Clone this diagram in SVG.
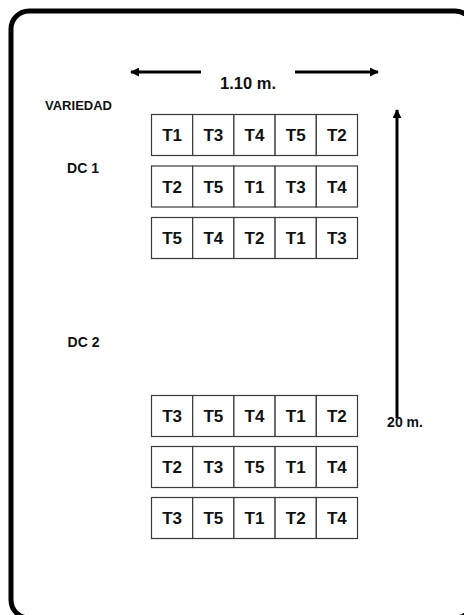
<svg xmlns="http://www.w3.org/2000/svg" width="464" height="615" viewBox="0 0 464 615">
<defs>
<marker id="ah" viewBox="0 0 10 10" refX="9" refY="5" markerWidth="3" markerHeight="3" orient="auto-start-reverse" markerUnits="strokeWidth">
<path d="M0,0 L10,5 L0,10 z" fill="#000"/>
</marker>
<style>
.frame{fill:#fff;stroke:#000;stroke-width:5}
.cell{fill:#fff;stroke:#3a3a3a;stroke-width:1.2}
.ct{font-family:"Liberation Sans",Arial,sans-serif;font-weight:bold;font-size:17px;fill:#111;text-anchor:middle}
.lbl{font-family:"Liberation Sans",Arial,sans-serif;font-weight:bold;fill:#111}
.arr{stroke:#000;stroke-width:3;fill:none}
</style>
</defs>
<rect width="464" height="615" fill="#fff"/>
<rect class="frame" x="11" y="11" width="462" height="607" rx="18"/>
<g id="connectors">
<line class="arr" x1="201" y1="72" x2="131" y2="72" marker-end="url(#ah)"/>
<line class="arr" x1="295" y1="72" x2="378" y2="72" marker-end="url(#ah)"/>
<line class="arr" x1="397" y1="418" x2="397" y2="110" marker-end="url(#ah)" stroke-width="3.5"/>
</g>
<g id="labels">
<text class="lbl" x="248" y="89" font-size="16.5" text-anchor="middle">1.10 m.</text>
<text class="lbl" x="405" y="427" font-size="14" text-anchor="middle">20 m.</text>
<text class="lbl" x="45" y="110" font-size="12" textLength="67" lengthAdjust="spacingAndGlyphs">VARIEDAD</text>
<text class="lbl" x="83" y="173" font-size="14" text-anchor="middle">DC 1</text>
<text class="lbl" x="83.5" y="347" font-size="14" text-anchor="middle">DC 2</text>
</g>
<g id="dc1-row1">
<rect class="cell" x="151.5" y="114.5" width="41.2" height="41"/><rect class="cell" x="192.7" y="114.5" width="41.2" height="41"/><rect class="cell" x="233.9" y="114.5" width="41.2" height="41"/><rect class="cell" x="275.1" y="114.5" width="41.2" height="41"/><rect class="cell" x="316.3" y="114.5" width="41.2" height="41"/>
<text class="ct" x="172.1" y="141">T1</text><text class="ct" x="213.3" y="141">T3</text><text class="ct" x="254.5" y="141">T4</text><text class="ct" x="295.7" y="141">T5</text><text class="ct" x="336.9" y="141">T2</text>
</g>
<g id="dc1-row2">
<rect class="cell" x="151.5" y="166" width="41.2" height="41"/><rect class="cell" x="192.7" y="166" width="41.2" height="41"/><rect class="cell" x="233.9" y="166" width="41.2" height="41"/><rect class="cell" x="275.1" y="166" width="41.2" height="41"/><rect class="cell" x="316.3" y="166" width="41.2" height="41"/>
<text class="ct" x="172.1" y="192.5">T2</text><text class="ct" x="213.3" y="192.5">T5</text><text class="ct" x="254.5" y="192.5">T1</text><text class="ct" x="295.7" y="192.5">T3</text><text class="ct" x="336.9" y="192.5">T4</text>
</g>
<g id="dc1-row3">
<rect class="cell" x="151.5" y="217.5" width="41.2" height="41"/><rect class="cell" x="192.7" y="217.5" width="41.2" height="41"/><rect class="cell" x="233.9" y="217.5" width="41.2" height="41"/><rect class="cell" x="275.1" y="217.5" width="41.2" height="41"/><rect class="cell" x="316.3" y="217.5" width="41.2" height="41"/>
<text class="ct" x="172.1" y="244">T5</text><text class="ct" x="213.3" y="244">T4</text><text class="ct" x="254.5" y="244">T2</text><text class="ct" x="295.7" y="244">T1</text><text class="ct" x="336.9" y="244">T3</text>
</g>
<g id="dc2-row1">
<rect class="cell" x="151.5" y="395.5" width="41.2" height="41"/><rect class="cell" x="192.7" y="395.5" width="41.2" height="41"/><rect class="cell" x="233.9" y="395.5" width="41.2" height="41"/><rect class="cell" x="275.1" y="395.5" width="41.2" height="41"/><rect class="cell" x="316.3" y="395.5" width="41.2" height="41"/>
<text class="ct" x="172.1" y="422">T3</text><text class="ct" x="213.3" y="422">T5</text><text class="ct" x="254.5" y="422">T4</text><text class="ct" x="295.7" y="422">T1</text><text class="ct" x="336.9" y="422">T2</text>
</g>
<g id="dc2-row2">
<rect class="cell" x="151.5" y="446.5" width="41.2" height="41"/><rect class="cell" x="192.7" y="446.5" width="41.2" height="41"/><rect class="cell" x="233.9" y="446.5" width="41.2" height="41"/><rect class="cell" x="275.1" y="446.5" width="41.2" height="41"/><rect class="cell" x="316.3" y="446.5" width="41.2" height="41"/>
<text class="ct" x="172.1" y="473">T2</text><text class="ct" x="213.3" y="473">T3</text><text class="ct" x="254.5" y="473">T5</text><text class="ct" x="295.7" y="473">T1</text><text class="ct" x="336.9" y="473">T4</text>
</g>
<g id="dc2-row3">
<rect class="cell" x="151.5" y="497.5" width="41.2" height="41"/><rect class="cell" x="192.7" y="497.5" width="41.2" height="41"/><rect class="cell" x="233.9" y="497.5" width="41.2" height="41"/><rect class="cell" x="275.1" y="497.5" width="41.2" height="41"/><rect class="cell" x="316.3" y="497.5" width="41.2" height="41"/>
<text class="ct" x="172.1" y="524">T3</text><text class="ct" x="213.3" y="524">T5</text><text class="ct" x="254.5" y="524">T1</text><text class="ct" x="295.7" y="524">T2</text><text class="ct" x="336.9" y="524">T4</text>
</g>
</svg>
